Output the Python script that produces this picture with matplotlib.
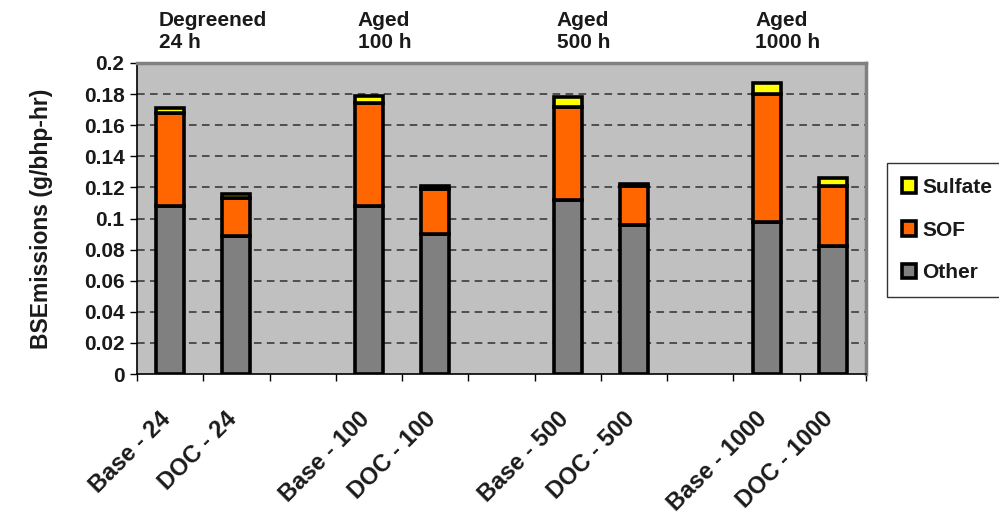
import numpy as np
import matplotlib.pyplot as plt
from matplotlib.transforms import ScaledTranslation

plt.rcParams['font.family'] = ['Liberation Sans', 'DejaVu Sans']
plt.rcParams['font.weight'] = 'bold'

# カテゴリ（空文字は間隔）
categories = ['Base - 24', 'DOC - 24', '', 'Base - 100', 'DOC - 100', '',
              'Base - 500', 'DOC - 500', '', 'Base - 1000', 'DOC - 1000']
other = [0.108, 0.089, 0, 0.108, 0.090, 0, 0.112, 0.096, 0, 0.098, 0.082]
sof = [0.060, 0.024, 0, 0.066, 0.029, 0, 0.060, 0.025, 0, 0.082, 0.039]
sulfate = [0.003, 0.003, 0, 0.005, 0.002, 0, 0.006, 0.0015, 0, 0.007, 0.005]

groups = ['Degreened\n24 h', 'Aged\n100 h', 'Aged\n500 h', 'Aged\n1000 h']
group_pos = [0, 3, 6, 9]

yticks = np.arange(0, 0.2001, 0.02)
ytick_labels = ['0', '0.02', '0.04', '0.06', '0.08', '0.1', '0.12', '0.14',
                '0.16', '0.18', '0.2']

txt = '#1a1a1a'

fig = plt.figure(figsize=(9.99, 5.18), dpi=100)
ax = fig.add_axes([137 / 999, 1 - 374 / 518, (866 - 137) / 999, (374 - 63) / 518])
ax.set_facecolor('#C0C0C0')

idx = np.array([i for i, c in enumerate(categories) if c])
o = np.array(other)[idx]
s = np.array(sof)[idx]
su = np.array(sulfate)[idx]
w = 0.42
kw = dict(width=w, edgecolor='black', linewidth=2.6, zorder=3)
b1 = ax.bar(idx, o, color='#808080', label='Other', **kw)
b2 = ax.bar(idx, s, bottom=o, color='#FF6600', label='SOF', **kw)
b3 = ax.bar(idx, su, bottom=o + s, color='#FFFF00', label='Sulfate', **kw)

ax.set_xlim(-0.5, len(categories) - 0.5)
ax.set_ylim(0, 0.2)
ax.set_yticks(yticks)
ax.set_yticklabels(ytick_labels, fontsize=15, color=txt)
for y in yticks[1:-1]:
    ax.axhline(y, color='#303030', linestyle=(0, (5, 3.5)), linewidth=1.1, zorder=1)

# 境界の目盛り
ax.set_xticks(np.arange(-0.5, len(categories) + 0.5, 1))
ax.set_xticklabels([])
ax.tick_params(axis='x', direction='out', length=5, width=1)
ax.tick_params(axis='y', direction='out', length=5, width=1, pad=4)
ax.set_xticks(idx, minor=True)
ax.set_xticklabels([categories[i] for i in idx], minor=True, rotation=45,
                   ha='right', va='top', rotation_mode='anchor', fontsize=17,
                   color=txt)
ax.tick_params(axis='x', which='minor', length=0, pad=24)
for lab in ax.get_xticklabels(minor=True):
    lab.set_transform(lab.get_transform() + ScaledTranslation(-8 / 72, 0, fig.dpi_scale_trans))

for sp in ['top', 'right']:
    ax.spines[sp].set_color('#808080')
    ax.spines[sp].set_linewidth(2.5)
for sp in ['left', 'bottom']:
    ax.spines[sp].set_color('black')
    ax.spines[sp].set_linewidth(1.2)

ax.set_ylabel('BSEmissions (g/bhp-hr)', fontsize=16.5, fontweight='bold',
              color=txt, labelpad=22)

for g, p in zip(groups, group_pos):
    ax.text(p - 0.17, 1.035, g, transform=ax.get_xaxis_transform(),
            ha='left', va='bottom', fontsize=15, color=txt, linespacing=1.2)

leg = fig.legend([b3, b2, b1], ['Sulfate', 'SOF', 'Other'],
                 loc='upper left', bbox_to_anchor=(887 / 999, 1 - 163 / 518),
                 frameon=True, fancybox=False, edgecolor='black', fontsize=15,
                 handlelength=0.7, handleheight=0.7, handletextpad=0.3,
                 labelspacing=1.15, borderpad=0.7, borderaxespad=0)
leg.get_frame().set_linewidth(1)
for t in leg.get_texts():
    t.set_color(txt)

fig.savefig('out.png', dpi=100)
